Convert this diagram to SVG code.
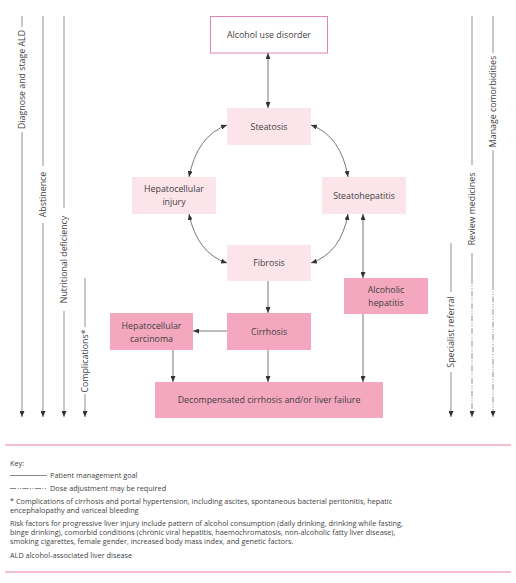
<svg xmlns="http://www.w3.org/2000/svg" width="516" height="583" viewBox="0 0 516 583">
<style>
text{font-family:"Open Sans","Noto Sans","Liberation Sans",sans-serif;fill:#3f3f3f}
.n{font-size:8.8px;text-anchor:middle}
.v{font-size:8.8px;text-anchor:middle;dominant-baseline:central}
.k{font-size:7.3px}
.light{fill:#fce4eb}
.dark{fill:#f4a8bf}
.c{fill:none;stroke:#555;stroke-width:0.8}
.g{fill:none;stroke:#a3a3a3;stroke-width:1.2}
.dd{stroke-dasharray:6 1.5 1 1.5 1 1.5}
.pk{stroke:#f2a9c6;stroke-width:1.3}
</style>
<defs>
<marker id="ah" viewBox="0 0 6 5" refX="6" refY="2.5" markerWidth="6" markerHeight="5" markerUnits="userSpaceOnUse" orient="auto-start-reverse"><path d="M0,0 L6,2.5 L0,5 z" fill="#333"/></marker>
</defs>
<rect width="516" height="583" fill="#fff"/>

<g id="nodes">
<g id="aud"><rect x="210.5" y="16.5" width="117" height="36.5" fill="#fff" stroke="#e285b5" stroke-width="1"/><text class="n" x="269" y="38">Alcohol use disorder</text></g>
<g id="steatosis"><rect class="light" x="227" y="108" width="84" height="37"/><text class="n" x="269" y="130">Steatosis</text></g>
<g id="hepinjury"><rect class="light" x="132" y="177" width="84" height="37"/><text class="n" x="174" y="192">Hepatocellular</text><text class="n" x="174" y="205">injury</text></g>
<g id="steatohep"><rect class="light" x="322" y="177" width="84" height="37"/><text class="n" x="364" y="199">Steatohepatitis</text></g>
<g id="fibrosis"><rect class="light" x="227" y="245" width="84" height="36"/><text class="n" x="269" y="266">Fibrosis</text></g>
<g id="alchep"><rect class="dark" x="344" y="278" width="84" height="36"/><text class="n" x="386" y="293">Alcoholic</text><text class="n" x="386" y="306">hepatitis</text></g>
<g id="cirrhosis"><rect class="dark" x="227" y="313" width="84" height="37"/><text class="n" x="269" y="335">Cirrhosis</text></g>
<g id="hcc"><rect class="dark" x="110" y="313" width="83" height="37"/><text class="n" x="151.5" y="329">Hepatocellular</text><text class="n" x="151.5" y="342">carcinoma</text></g>
<g id="decomp"><rect class="dark" x="155" y="382" width="228" height="36"/><text class="n" x="269" y="403">Decompensated cirrhosis and/or liver failure</text></g>
</g>

<g id="connectors">
<line class="c" x1="268" y1="53" x2="268" y2="108" marker-start="url(#ah)" marker-end="url(#ah)"/>
<path class="c" d="M189,177 Q197,136 227,125" marker-start="url(#ah)" marker-end="url(#ah)"/>
<path class="c" d="M311,125 Q341,136 348,177" marker-start="url(#ah)" marker-end="url(#ah)"/>
<path class="c" d="M189,214 Q197,253 227,263" marker-start="url(#ah)" marker-end="url(#ah)"/>
<path class="c" d="M348,214 Q341,253 311,263" marker-start="url(#ah)" marker-end="url(#ah)"/>
<line class="c" x1="363" y1="214" x2="363" y2="278" marker-start="url(#ah)" marker-end="url(#ah)"/>
<line class="c" x1="268" y1="281" x2="268" y2="313" marker-end="url(#ah)"/>
<line class="c" x1="227" y1="331" x2="193" y2="331" marker-end="url(#ah)"/>
<line class="c" x1="173" y1="350" x2="173" y2="382" marker-end="url(#ah)"/>
<line class="c" x1="268" y1="350" x2="268" y2="382" marker-end="url(#ah)"/>
<line class="c" x1="363" y1="314" x2="363" y2="382" marker-end="url(#ah)"/>
</g>

<g id="goals">
<line class="g" x1="22" y1="16" x2="22" y2="27"/>
<line class="g" x1="22" y1="132" x2="22" y2="417" marker-end="url(#ah)"/>
<text class="v" transform="translate(22,79.5) rotate(-90)">Diagnose and stage ALD</text>

<line class="g" x1="43" y1="16" x2="43" y2="166"/>
<line class="g" x1="43" y1="223" x2="43" y2="417" marker-end="url(#ah)"/>
<text class="v" transform="translate(43,194.5) rotate(-90)">Abstinence</text>

<line class="g" x1="64" y1="16" x2="64" y2="208"/>
<line class="g" x1="64" y1="311" x2="64" y2="417" marker-end="url(#ah)"/>
<text class="v" transform="translate(64,259.5) rotate(-90)">Nutritional deficiency</text>

<line class="g" x1="85" y1="278" x2="85" y2="327"/>
<line class="g" x1="85" y1="394" x2="85" y2="417" marker-end="url(#ah)"/>
<text class="v" transform="translate(85,361) rotate(-90)">Complications*</text>

<line class="g" x1="451" y1="243" x2="451" y2="292"/>
<line class="g" x1="451" y1="372" x2="451" y2="417" marker-end="url(#ah)"/>
<text class="v" transform="translate(451,332) rotate(-90)">Specialist referral</text>

<line class="g" x1="472" y1="16" x2="472" y2="165"/>
<line class="g" x1="472" y1="253" x2="472" y2="278"/>
<line class="g dd" x1="472" y1="278" x2="472" y2="417" marker-end="url(#ah)"/>
<text class="v" transform="translate(472,209) rotate(-90)">Review medicines</text>

<line class="g" x1="493" y1="16" x2="493" y2="53"/>
<line class="g" x1="493" y1="150" x2="493" y2="284"/>
<line class="g dd" x1="493" y1="284" x2="493" y2="417" marker-end="url(#ah)"/>
<text class="v" transform="translate(493,101.5) rotate(-90)">Manage comorbidities</text>
</g>

<g id="key">
<line class="pk" x1="5" y1="445" x2="511" y2="445"/>
<line class="pk" x1="5" y1="572" x2="511" y2="572"/>
<text class="k" x="10" y="466">Key:</text>
<line x1="10" y1="475.5" x2="47" y2="475.5" stroke="#555" stroke-width="0.7"/>
<text class="k" x="50" y="478">Patient management goal</text>
<line x1="10" y1="488.5" x2="47" y2="488.5" stroke="#555" stroke-width="0.7" stroke-dasharray="6 1.5 1 1.5 1 1.5"/>
<text class="k" x="50" y="491">Dose adjustment may be required</text>
<text class="k" x="10" y="504">* Complications of cirrhosis and portal hypertension, including ascites, spontaneous bacterial peritonitis, hepatic</text>
<text class="k" x="10" y="513">encephalopathy and variceal bleeding</text>
<text class="k" x="10" y="526">Risk factors for progressive liver injury include pattern of alcohol consumption (daily drinking, drinking while fasting,</text>
<text class="k" x="10" y="535">binge drinking), comorbid conditions (chronic viral hepatitis, haemochromatosis, non-alcoholic fatty liver disease),</text>
<text class="k" x="10" y="544">smoking cigarettes, female gender, increased body mass index, and genetic factors.</text>
<text class="k" x="10" y="558">ALD alcohol-associated liver disease</text>
</g>
</svg>
